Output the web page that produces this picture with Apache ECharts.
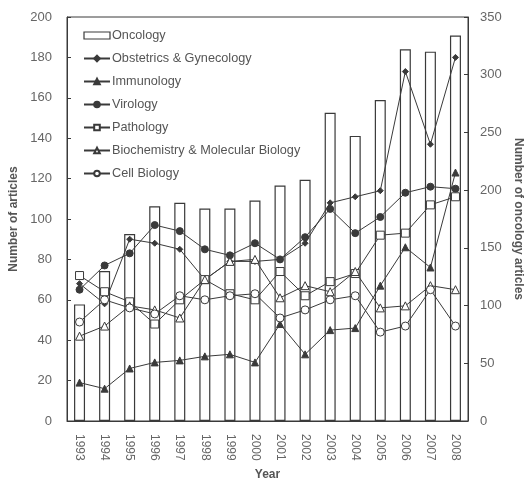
<!DOCTYPE html>
<html>
<head>
<meta charset="utf-8">
<script src="https://cdn.jsdelivr.net/npm/echarts@6/dist/echarts.min.js"></script>
<style>html,body{margin:0;padding:0;background:#fff;}#c{width:526px;height:483px;}</style>
</head>
<body>
<div id="c"></div>
<script>
var years = ['1993','1994','1995','1996','1997','1998','1999','2000','2001','2002','2003','2004','2005','2006','2007','2008'];
var leftTicks = [0,20,40,60,80,100,120,140,160,180,200];
var rightTicks = [0,50,100,150,200,250,300,350];
var oncology = [101,130,162,186,189,184,184,191,204,209,267,247,278,322,320,334];
var obstetrics = [68,58,90,88,85,70,79,79,80,88,108,111,114,173,137,180];
var immunology = [19,16,26,29,30,32,33,29,48,33,45,46,67,86,76,123];
var virology = [65,77,83,97,94,85,82,88,80,91,105,93,101,113,116,115];
var pathology = [72,64,59,48,60,70,63,60,74,62,69,73,92,93,107,111];
var biochem = [42,47,57,55,51,70,79,80,61,67,64,74,56,57,67,65];
var cellbio = [49,60,56,53,62,60,62,63,51,55,60,62,44,47,65,47];

var INK = '#3a3a3a';
var LABEL = '#666';
var FONT = 'Liberation Sans, Arial, sans-serif';
function lineSeries(name, data, symbol, size, filled) {
  return {
    name: name, type: 'line', yAxisIndex: 0, data: data,
    symbol: symbol, symbolSize: size,
    lineStyle: {color: INK, width: 1},
    itemStyle: {color: filled ? INK : '#fff', borderColor: INK, borderWidth: 1},
    z: 3
  };
}
var chart = echarts.init(document.getElementById('c'), null, {renderer: 'canvas'});
chart.setOption({
  animation: false,
  backgroundColor: '#fff',
  textStyle: {fontFamily: FONT},
  grid: {left: 67, right: 58, top: 17, bottom: 62, show: true, borderColor: INK, borderWidth: 1,
    backgroundColor: 'transparent', containLabel: false, outerBoundsMode: 'none'},
  legend: {
    orient: 'vertical', left: 78, top: 24, itemWidth: 26, itemHeight: 7, itemGap: 10,
    textStyle: {fontFamily: FONT, fontSize: 12.7, color: '#555', padding: [0, 0, 0, -3]},
    data: [
      {name: 'Oncology', icon: 'rect', itemStyle: {color: '#fff', borderColor: INK, borderWidth: 1.2}},
      'Obstetrics & Gynecology', 'Immunology', 'Virology', 'Pathology',
      'Biochemistry & Molecular Biology', 'Cell Biology'
    ]
  },
  xAxis: {
    type: 'category', data: years, boundaryGap: true,
    name: 'Year', nameLocation: 'middle', nameGap: 45,
    nameTextStyle: {fontFamily: FONT, fontSize: 12, fontWeight: 'bold', color: '#555'},
    axisLine: {lineStyle: {color: INK}},
    axisTick: {inside: true, length: 4, lineStyle: {color: INK}},
    axisLabel: {rotate: -90, fontSize: 12, color: LABEL, margin: 13, fontFamily: FONT}
  },
  yAxis: [
    {
      type: 'value', min: 0, max: 200, interval: 20, position: 'left',
      name: 'Number of articles', nameLocation: 'middle', nameGap: 33, nameRotate: 90,
      nameTextStyle: {fontFamily: FONT, fontSize: 12, fontWeight: 'bold', color: '#555'},
      axisLine: {show: true, lineStyle: {color: INK}},
      axisTick: {show: true, inside: true, length: 4, lineStyle: {color: INK}},
      axisLabel: {fontSize: 13, color: LABEL, margin: 15, fontFamily: FONT,
        formatter: function (v) { return leftTicks.indexOf(v) >= 0 ? String(v) : ''; }},
      splitLine: {show: false}
    },
    {
      type: 'value', min: 0, max: 350, interval: 50, position: 'right',
      name: 'Number of oncology articles', nameLocation: 'middle', nameGap: 38, nameRotate: -90,
      nameTextStyle: {fontFamily: FONT, fontSize: 12, fontWeight: 'bold', color: '#555'},
      axisLine: {show: true, lineStyle: {color: INK}},
      axisTick: {show: true, inside: true, length: 4, lineStyle: {color: INK}},
      axisLabel: {fontSize: 13, color: LABEL, margin: 12, fontFamily: FONT,
        formatter: function (v) { return rightTicks.indexOf(v) >= 0 ? String(v) : ''; }},
      splitLine: {show: false}
    }
  ],
  series: [
    {
      name: 'Oncology', type: 'bar', yAxisIndex: 1, data: oncology, barWidth: 11,
      itemStyle: {color: '#fff', borderColor: INK, borderWidth: 1.2}, z: 1
    },
    lineSeries('Obstetrics & Gynecology', obstetrics, 'diamond', 6, true),
    lineSeries('Immunology', immunology, 'triangle', 7, true),
    lineSeries('Virology', virology, 'circle', 7, true),
    lineSeries('Pathology', pathology, 'rect', 8, false),
    lineSeries('Biochemistry & Molecular Biology', biochem, 'triangle', 8, false),
    lineSeries('Cell Biology', cellbio, 'circle', 8, false)
  ]
});
</script>
</body>
</html>
